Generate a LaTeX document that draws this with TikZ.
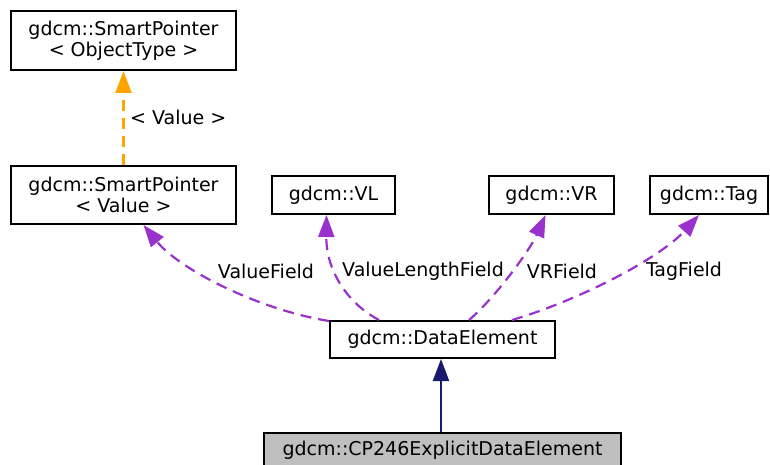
\documentclass[tikz,border=0pt]{standalone}
\usepackage{fontspec}
\setmainfont{DejaVu Sans}
\usetikzlibrary{arrows.meta}
\definecolor{edgeorange}{RGB}{255,165,0}
\definecolor{edgepurple}{RGB}{153,50,204}
\definecolor{edgenavy}{RGB}{25,25,112}
\definecolor{boxgrey}{RGB}{191,191,191}
\begin{document}
\begin{tikzpicture}[x=1pt,y=-1pt,
  cls/.style={draw=black, line width=2pt, rectangle, inner sep=0pt, align=center,
    font=\fontsize{19}{21}\selectfont},
  lbl/.style={font=\fontsize{19}{21}\selectfont, inner sep=0pt},
  tip/.style={-{Triangle[length=22pt,width=16pt]}},
  dep/.style={draw=edgepurple, line width=2.2pt, dash pattern=on 11pt off 7pt, tip},
  tmpl/.style={draw=edgeorange, line width=2.2pt, dash pattern=on 11pt off 7pt, tip},
  inh/.style={draw=edgenavy, line width=2.2pt, tip}
]
\useasboundingbox (0,0) rectangle (770,465);

\node[cls, minimum width=225pt, minimum height=59pt] (spo) at (123.5,40.5) {gdcm::SmartPointer\\< ObjectType >};
\node[cls, minimum width=225pt, minimum height=58pt] (spv) at (123.5,195) {gdcm::SmartPointer\\< Value >};
\node[cls, minimum width=123pt, minimum height=38pt] (vl) at (333.5,195) {gdcm::VL};
\node[cls, minimum width=125pt, minimum height=38pt] (vr) at (551.5,195) {gdcm::VR};
\node[cls, minimum width=118pt, minimum height=38pt] (tag) at (709,195) {gdcm::Tag};
\node[cls, minimum width=225pt, minimum height=37pt] (de) at (442.5,339.5) {gdcm::DataElement};
\node[cls, fill=boxgrey, minimum width=357pt, minimum height=34pt] (cp) at (442.5,450) {gdcm::CP246ExplicitDataElement};

\draw[tmpl] (spv.north) -- (spo.south);
\node[lbl, anchor=west] (lv) at (130,117) {< Value >};

\draw[dep] ([yshift=-1pt]de.north west) .. controls (260,310) and (180,270) .. ([xshift=20pt]spv.south);
\node[lbl] (lvf) at (266,271) {ValueField};

\draw[dep] ([xshift=50pt]de.north west) .. controls (345,302) and (326,268) .. ([xshift=-7pt]vl.south);
\node[lbl] (lvlf) at (423,271) {ValueLengthField};

\draw[dep] ([xshift=140pt]de.north west) .. controls (495,298) and (530,250) .. ([xshift=-6pt]vr.south);
\node[lbl] (lvrf) at (562,271) {VRField};

\draw[dep] ([xshift=183pt]de.north west) .. controls (580,300) and (660,258) .. ([xshift=-10pt]tag.south);
\node[lbl] (ltf) at (684,271) {TagField};

\draw[inh] ([xshift=-1.5pt]cp.north) -- ([xshift=-1.5pt]de.south);
\end{tikzpicture}
\end{document}
